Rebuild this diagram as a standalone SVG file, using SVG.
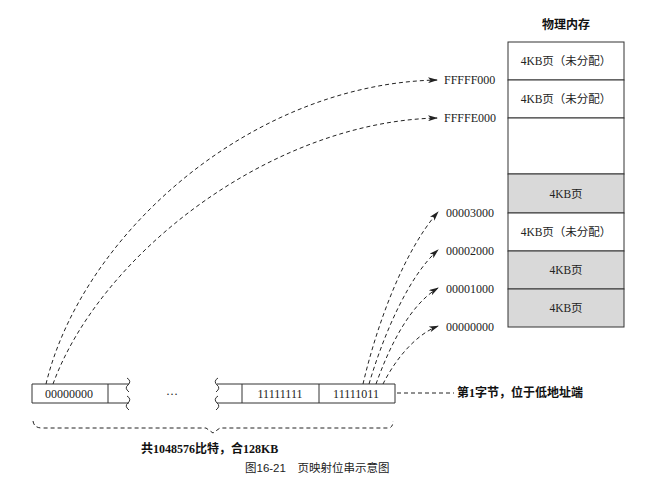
<svg xmlns="http://www.w3.org/2000/svg" width="650" height="488" viewBox="0 0 650 488">
<defs>
<marker id="ah" markerWidth="10" markerHeight="6" refX="9" refY="3" orient="auto" markerUnits="userSpaceOnUse">
<path d="M0,0 L10,3 L0,6 L2.5,3 Z" fill="#222"/>
</marker>
<style>
.t{font-family:"Liberation Serif","Noto Sans CJK SC",serif;font-size:12px;fill:#222}
.c{font-family:"Liberation Serif","Noto Sans CJK SC",serif;font-size:11.5px;fill:#222;text-anchor:middle}
.b{font-family:"Liberation Serif","Noto Sans CJK SC",serif;font-size:12px;fill:#111;font-weight:bold}
.cap{font-family:"Liberation Sans","Noto Sans CJK SC",sans-serif;font-size:11.5px;fill:#222}
.box{fill:#fff;stroke:#333;stroke-width:1}
.g{fill:#d9d9d9;stroke:#333;stroke-width:1}
.ln{stroke:#333;stroke-width:1;fill:none}
.d{stroke:#222;stroke-width:1;fill:none;stroke-dasharray:4 3}
.da{stroke:#222;stroke-width:1;fill:none;stroke-dasharray:4 3;marker-end:url(#ah)}
</style>
</defs>
<rect width="650" height="488" fill="#fff"/>

<g id="memory">
<text class="b" x="566" y="29" text-anchor="middle">物理内存</text>
<rect class="box" x="508" y="42" width="116" height="38"/>
<rect class="box" x="508" y="80" width="116" height="38"/>
<rect class="box" x="508" y="118" width="116" height="56"/>
<rect class="g" x="508" y="174" width="116" height="39"/>
<rect class="box" x="508" y="213" width="116" height="38"/>
<rect class="g" x="508" y="251" width="116" height="38"/>
<rect class="g" x="508" y="289" width="116" height="38"/>
<text class="c" x="566" y="65">4KB页（未分配）</text>
<text class="c" x="566" y="103">4KB页（未分配）</text>
<text class="c" x="566" y="198">4KB页</text>
<text class="c" x="566" y="236">4KB页（未分配）</text>
<text class="c" x="566" y="274">4KB页</text>
<text class="c" x="566" y="312">4KB页</text>
</g>

<g id="addresses">
<text class="t" x="444" y="84">FFFFF000</text>
<text class="t" x="444" y="122">FFFFE000</text>
<text class="t" x="446" y="217">00003000</text>
<text class="t" x="446" y="255">00002000</text>
<text class="t" x="446" y="293">00001000</text>
<text class="t" x="446" y="331">00000000</text>
</g>

<g id="bitstring">
<path class="ln" d="M108,384 H32 V403 H108 M108,384 V403 M108,384 H129 M108,403 H129"/>
<path class="ln" d="M127,378 q5,3 1,7 q-4,3 1,7 M127,396 q5,3 1,7 q-4,3 1,7"/>
<text class="t" x="45" y="398">00000000</text>
<text class="t" x="172" y="395" text-anchor="middle">…</text>
<path class="ln" d="M217,384 H395 V403 H217 M242,384 V403 M319,384 V403"/>
<path class="ln" d="M218,378 q-5,3 -1,7 q4,3 -1,7 M218,396 q-5,3 -1,7 q4,3 -1,7"/>
<text class="t" x="280" y="398" text-anchor="middle">11111111</text>
<text class="t" x="356" y="398" text-anchor="middle">11111011</text>
</g>

<g id="notes">
<path class="d" d="M397,393 H454"/>
<text class="b" x="457" y="397">第1字节，位于低地址端</text>
<path class="d" d="M33,421 Q34,428 42,428 H206 L213,433 L220,428 H388 Q393,428 393,421"/>
<text class="b" x="141" y="453">共1048576比特，合128KB</text>
<text class="cap" x="245" y="472">图16-21　页映射位串示意图</text>
</g>

<g id="connectors">
<path class="da" d="M46,384 C82,235 250,84 437,80"/>
<path class="da" d="M53,384 C100,255 270,122 437,118"/>
<path class="da" d="M363,384 C378,320 405,250 438,212"/>
<path class="da" d="M369,384 C385,330 410,275 438,250"/>
<path class="da" d="M376,384 C390,345 410,305 438,288"/>
<path class="da" d="M383,384 C395,360 415,335 438,326"/>
</g>
</svg>
